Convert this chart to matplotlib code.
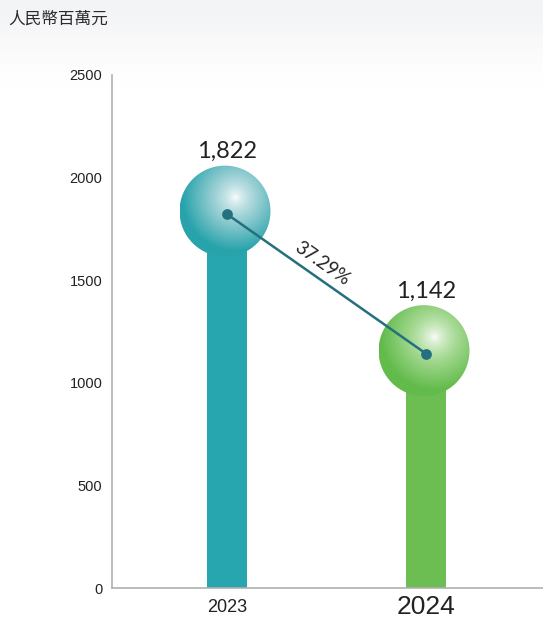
import numpy as np
import matplotlib.pyplot as plt
from matplotlib.patches import Ellipse
from matplotlib.colors import to_rgb

plt.rcParams['font.family'] = ['Liberation Sans', 'DejaVu Sans']

# data
years = ['2023', '2024']
values = [1822, 1142]
value_labels = ['1,822', '1,142']
change_label = '37.29%'
unit_label = '人民幣百萬元'
yticks = [0, 500, 1000, 1500, 2000, 2500]

bar_colors = ['#27a6af', '#6cbe52']
ball_edge = ['#28a3ab', '#62bb4b']
ball_mid = ['#94cdd2', '#a3d890']
dot_color = '#25707f'

W, H = 543, 632
fig = plt.figure(figsize=(W / 100, H / 100), dpi=100)

# faint grey fade at top of the page
bg = fig.add_axes([0, 0, 1, 1], zorder=-10)
grad = np.ones((H, 2, 3))
f = np.linspace(0, 1, 90)
fade = (f * f * (3 - 2 * f))[:, None]
top_col = np.array([0.955, 0.958, 0.965])
grad[:90] = (top_col * (1 - fade) + fade)[:, None, :]
bg.imshow(grad, aspect='auto', extent=[0, 1, 0, 1], interpolation='bilinear')
bg.axis('off')

ax_l, ax_r, ax_b, ax_t = 112, 543, 588, 75
ax = fig.add_axes([ax_l / W, 1 - ax_b / H, (ax_r - ax_l) / W, (ax_b - ax_t) / H])
ax.patch.set_alpha(0)

x = np.arange(len(years))
px_per_x = 199.0
ax.set_xlim(-(227 - ax_l) / px_per_x, 1 + (ax_r - 426) / px_per_x)
ax.set_ylim(0, 2500)
px_per_y = (ax_b - ax_t) / 2500

ax.bar(x, values, width=40 / px_per_x, color=bar_colors, zorder=2)

# shiny balls on top of bars
r_px = 45.5
rx, ry = r_px / px_per_x, r_px / px_per_y
n = 200
gy, gx = np.mgrid[1:-1:n * 1j, -1:1:n * 1j]
white = np.array([1.0, 1.0, 1.0])
for i, v in enumerate(values):
    cx = x[i] - 2 / px_per_x
    cy = v + 3 / px_per_y
    d = np.clip(np.sqrt((gx - 0.22) ** 2 + (gy - 0.3) ** 2) / 1.3, 0, 1)
    mid = np.array(to_rgb(ball_mid[i]))
    edge = np.array(to_rgb(ball_edge[i]))
    t1 = np.clip(d / 0.4, 0, 1)[..., None] ** 0.7
    t2 = np.clip((d - 0.4) / 0.5, 0, 1)[..., None]
    img = np.where(d[..., None] < 0.4, white * (1 - t1) + mid * t1, mid * (1 - t2) + edge * t2)
    im = ax.imshow(img, extent=[cx - rx, cx + rx, cy - ry, cy + ry], aspect='auto', zorder=3,
                   interpolation='bilinear')
    clip = Ellipse((cx, cy), 2 * rx, 2 * ry, transform=ax.transData, facecolor='none', edgecolor='none')
    ax.add_patch(clip)
    im.set_clip_path(clip)
    ax.text(x[i], v + 52 / px_per_y, value_labels[i], ha='center', va='bottom',
            fontsize=17, family=['Lato', 'DejaVu Sans'], color='#222222', zorder=5)

ax.plot(x, values, color=dot_color, lw=1.8, zorder=4)
ax.scatter(x, values, s=60, color=dot_color, zorder=5, linewidths=0)

ang = np.degrees(np.arctan2((values[1] - values[0]) * px_per_y, px_per_x))
ax.text(0.48, (values[0] + values[1]) / 2 + 100, change_label, rotation=ang,
        rotation_mode='anchor', ha='center', va='center', fontsize=13.5,
        family=['Lato', 'DejaVu Sans'], color='#222222', zorder=5)

ax.set_yticks(yticks)
ax.set_yticklabels([str(t) for t in yticks], fontsize=10.5, color='#222222')
ax.tick_params(axis='y', length=0, pad=7)
ax.set_xticks(x)
ax.set_xticklabels(years)
ax.tick_params(axis='x', length=0, pad=14)
xl = ax.get_xticklabels()
xl[0].set_fontsize(13)
xl[1].set_fontsize(19)
for t in xl:
    t.set_color('#222222')
    t.set_va('center')

for s in ['top', 'right']:
    ax.spines[s].set_visible(False)
for s in ['left', 'bottom']:
    ax.spines[s].set_color('#b0b0b0')
    ax.spines[s].set_linewidth(1.2)

fig.text(8 / W, 1 - 19 / H, unit_label, fontsize=12, va='center', ha='left', fontweight='medium',
         family=['Noto Sans CJK TC', 'DejaVu Sans'], color='#2a2a2a')

fig.savefig('out.png', dpi=100)
